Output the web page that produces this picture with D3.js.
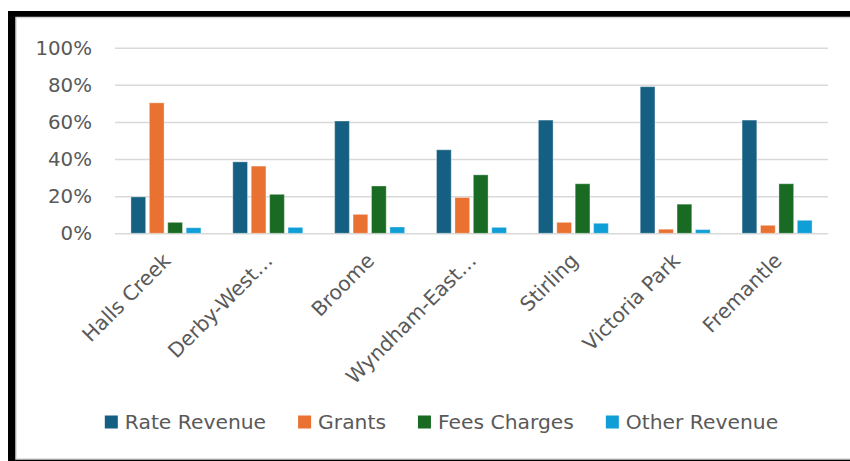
<!DOCTYPE html>
<html>
<head>
<meta charset="utf-8">
<script src="https://cdn.jsdelivr.net/npm/d3@7"></script>
<style>
  html, body { margin: 0; padding: 0; background: #fff; }
  svg { display: block; font-family: "DejaVu Sans", sans-serif; }
</style>
</head>
<body>
<svg id="revenueChart"></svg>
<script>
const categories = ["Halls Creek", "Derby-West…", "Broome", "Wyndham-East…", "Stirling", "Victoria Park", "Fremantle"];
const seriesNames = ["Rate Revenue", "Grants", "Fees Charges", "Other Revenue"];
const rateRevenue = [19.6, 38.5, 60.5, 45.0, 61.0, 79.0, 61.0];
const grants = [70.3, 36.2, 10.2, 19.3, 5.9, 2.2, 4.3];
const feesCharges = [5.9, 21.0, 25.5, 31.5, 26.7, 15.7, 26.7];
const otherRevenue = [3.0, 3.2, 3.4, 3.2, 5.4, 2.0, 7.0];
const yTicks = [0, 20, 40, 60, 80, 100];

const seriesColors = ["#156082", "#e97132", "#196b24", "#0f9ed5"];

function initializeElements() {
const svgWidth = 850
const svgHeight = 461
const plot = ({left: 115, right: 828, top: 47.7, bottom: 233.3})
const textColor = "#595959"

const svg = d3.select("#revenueChart")
    .attr("width", svgWidth)
    .attr("height", svgHeight);

// frame: thick black edge top/left, thin grey line inside
svg.append("rect")
    .attr("x", 8).attr("y", 11)
    .attr("width", 900).attr("height", 500)
    .attr("fill", "#000");
svg.append("rect")
    .attr("x", 16).attr("y", 17.5)
    .attr("width", 900).attr("height", 441.5)
    .attr("fill", "#fff")
    .attr("stroke", "#d9d9d9")
    .attr("stroke-width", 1.5);

// one row per category
const rows = categories.map((c, i) => ({
    category: c,
    values: [rateRevenue[i], grants[i], feesCharges[i], otherRevenue[i]]
}));

const x0 = d3.scaleBand()
    .domain(categories)
    .range([plot.left, plot.right]);

const x1 = d3.scaleBand()
    .domain(seriesNames)
    .range([0, x0.bandwidth()])
    .paddingInner(0.2)
    .paddingOuter(0.865);

const yScale = d3.scaleLinear()
    .domain([0, 100])
    .range([plot.bottom, plot.top]);

// gridlines + y labels via axisLeft
const yAxis = svg.append("g")
    .attr("transform", `translate(${plot.left}, 0)`)
    .call(d3.axisLeft(yScale)
        .tickValues(yTicks)
        .tickSize(-(plot.right - plot.left))
        .tickPadding(23)
        .tickFormat(d => d + "%"));
yAxis.select(".domain").remove();
yAxis.selectAll("line")
    .attr("stroke", "#d9d9d9")
    .attr("stroke-width", 1.5);
yAxis.selectAll("text")
    .attr("fill", textColor)
    .style("font-size", "19.8px")
    .style("font-family", "DejaVu Sans, sans-serif");

// bars
const groups = svg.append("g")
    .selectAll("g")
    .data(rows)
    .join("g")
    .attr("transform", d => `translate(${x0(d.category)}, 0)`);

groups.selectAll("rect")
    .data(d => d.values.map((v, k) => ({key: seriesNames[k], value: v, k: k})))
    .join("rect")
    .attr("x", d => x1(d.key))
    .attr("y", d => yScale(d.value))
    .attr("width", x1.bandwidth())
    .attr("height", d => yScale(0) - yScale(d.value))
    .attr("fill", d => seriesColors[d.k])
    .attr("stroke", "#fff")
    .attr("stroke-opacity", 0.35)
    .attr("stroke-width", 1);

// category labels, rotated
svg.append("g")
    .selectAll("text")
    .data(categories)
    .join("text")
    .attr("transform", d => `translate(${x0(d) + x0.bandwidth() / 2 + 6}, 262) rotate(-45)`)
    .attr("text-anchor", "end")
    .attr("fill", textColor)
    .style("font-size", "20.3px")
    .text(d => d);

// legend, centered
const legend = svg.append("g");
const items = legend.selectAll("g")
    .data(seriesNames)
    .join("g");
items.append("rect")
    .attr("width", 13)
    .attr("height", 13)
    .attr("y", 415.5)
    .attr("fill", (d, i) => seriesColors[i]);
items.append("text")
    .attr("x", 20)
    .attr("y", 429)
    .attr("fill", textColor)
    .style("font-size", "20.3px")
    .text(d => d);

let xPos = 0;
items.each(function() {
    d3.select(this).attr("transform", `translate(${xPos}, 0)`);
    xPos += 20 + this.querySelector("text").getComputedTextLength() + 32;
});
const legendWidth = xPos - 32;
legend.attr("transform", `translate(${441.5 - legendWidth / 2}, 0)`);
}

initializeElements();
</script>
</body>
</html>
